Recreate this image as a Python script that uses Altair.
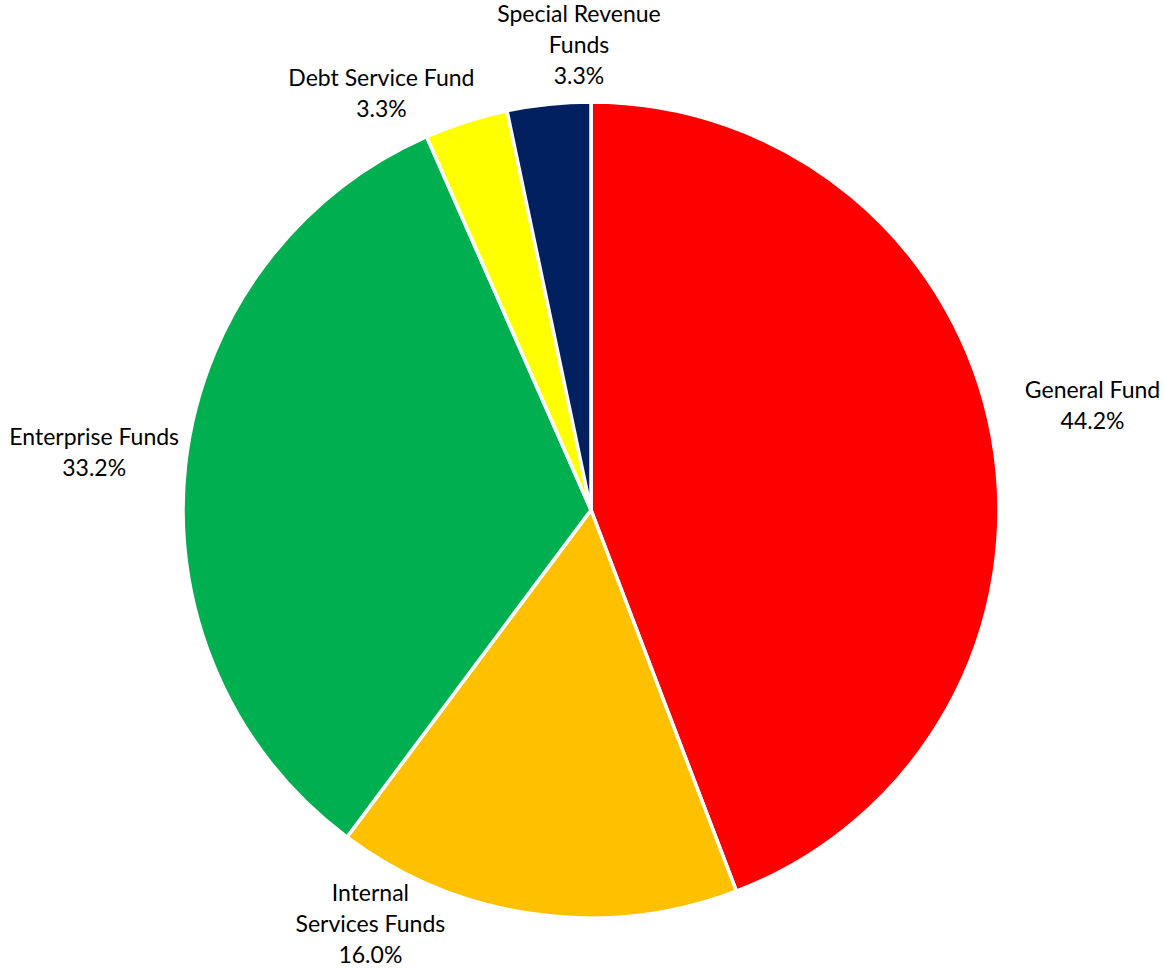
import altair as alt
import pandas as pd

categories = ["General Fund", "Internal Services Funds", "Enterprise Funds", "Debt Service Fund", "Special Revenue Funds"]
shares = [44.2, 16.0, 33.2, 3.3, 3.3]
label_texts = ["General Fund\n44.2%", "Internal\nServices Funds\n16.0%", "Enterprise Funds\n33.2%",
               "Debt Service Fund\n3.3%", "Special Revenue\nFunds\n3.3%"]
colors = ["#FF0000", "#FFC000", "#00B050", "#FFFF00", "#002060"]

df = pd.DataFrame({
    "category": categories,
    "share": shares,
    "label": label_texts,
    "order": list(range(len(categories))),
})

CX, CY, R = 591, 510, 408

base = alt.Chart(df).encode(
    theta=alt.Theta("share:Q", stack=True),
    order=alt.Order("order:Q"),
    x=alt.value(CX),
    y=alt.value(CY),
)

pie = base.mark_arc(outerRadius=R, stroke="white", strokeWidth=3.5).encode(
    color=alt.Color("category:N", scale=alt.Scale(domain=categories, range=colors), legend=None)
)

# per-label placement: (radius, dx, dy) -- anchor is the first line
placement = {
    "General Fund": (512, -2, -26),
    "Internal Services Funds": (469, -156, -81),
    "Enterprise Funds": (500, 0, -16),
    "Debt Service Fund": (466, -67, 13),
    "Special Revenue Funds": (464, 36, -33),
}

layers = [pie]
for cat in categories:
    r, dx, dy = placement[cat]
    t = base.transform_calculate(
        txt=f"datum.category == '{cat}' ? datum.label : ''"
    ).mark_text(
        radius=r, dx=dx, dy=dy, font="Lato", fontSize=23, color="#000000",
        lineBreak="\n", lineHeight=31, align="center", baseline="middle"
    ).encode(text="txt:N")
    layers.append(t)

chart = alt.layer(*layers).properties(
    width=1164, height=970, autosize=alt.AutoSizeParams(type="none"), padding=0
).configure_view(stroke=None)

chart.save("out.html", embed_options={"renderer": "svg", "actions": False})
